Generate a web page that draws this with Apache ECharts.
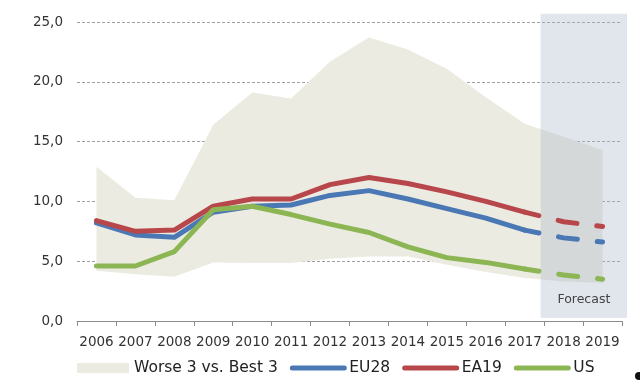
<!DOCTYPE html>
<html>
<head>
<meta charset="utf-8">
<script src="https://cdn.jsdelivr.net/npm/echarts@6/dist/echarts.min.js"></script>
<style>html,body{margin:0;padding:0;background:#fff}#c{width:640px;height:384px}</style>
</head>
<body>
<div id="c"></div>
<script>
const years = ['2006','2007','2008','2009','2010','2011','2012','2013','2014','2015','2016','2017','2018','2019'];
const eu28 = [8.2, 7.2, 7.0, 9.1, 9.6, 9.7, 10.5, 10.9, 10.2, 9.4, 8.6, 7.6, 6.95, 6.6];
const ea19 = [8.4, 7.5, 7.6, 9.6, 10.2, 10.2, 11.4, 12.0, 11.5, 10.8, 10.0, 9.1, 8.3, 7.9];
const us = [4.6, 4.6, 5.8, 9.3, 9.6, 8.9, 8.1, 7.4, 6.2, 5.3, 4.9, 4.35, 3.85, 3.5];
const bandUpper = [12.9, 10.3, 10.1, 16.4, 19.1, 18.6, 21.7, 23.7, 22.7, 21.1, 18.7, 16.5, 15.4, 14.3];
const bandLower = [4.2, 3.9, 3.7, 4.9, 4.85, 4.85, 5.2, 5.4, 5.4, 4.7, 4.1, 3.6, 3.3, 3.2];
const yTicks = [0, 5, 10, 15, 20, 25];
const lastActual = '2017';
const forecastLabel = 'Forecast';
const bandName = 'Worse 3 vs. Best 3';

const FONT = 'DejaVu Sans';
const cut = years.indexOf(lastActual);
const lastIdx = years.length - 1;
const solid = arr => arr.map((v, i) => i <= cut ? v : '-');
const dashed = arr => arr.map((v, i) => i >= cut ? v : '-');

const colors = { EU28: '#4a78b4', EA19: '#b8474b', US: '#8cb553' };
const lineSeries = [];
[['EU28', eu28], ['EA19', ea19], ['US', us]].forEach(([name, data]) => {
  lineSeries.push({
    name, type: 'line', data: solid(data), symbol: 'none', z: 5,
    lineStyle: { color: colors[name], width: 5, cap: 'round', join: 'round' },
    itemStyle: { color: colors[name] }
  });
  lineSeries.push({
    name, type: 'line', data: dashed(data), symbol: 'none', z: 5,
    lineStyle: { color: colors[name], width: 5, cap: 'round', join: 'round', type: [19, 20], dashOffset: 4.5 },
    itemStyle: { color: colors[name] }
  });
});

const lineLegend = name => ({ name, itemStyle: { opacity: 0 }, lineStyle: { width: 5, cap: 'round', color: colors[name] } });

const option = {
  animation: false,
  grid: { left: 77, right: 18, top: 22, bottom: 63 },
  xAxis: {
    type: 'category', data: years, boundaryGap: true,
    axisLine: { lineStyle: { color: '#8c8c8c', width: 1 } },
    axisTick: { show: true, length: 5, lineStyle: { color: '#8c8c8c' } },
    axisLabel: { fontFamily: FONT, fontSize: 13.5, color: '#333', margin: 14, interval: 0 },
    splitLine: { show: false }
  },
  yAxis: {
    type: 'value', min: yTicks[0], max: yTicks[yTicks.length - 1], interval: yTicks[1] - yTicks[0],
    axisLine: { show: false }, axisTick: { show: false },
    axisLabel: { fontFamily: FONT, fontSize: 13.5, color: '#333', margin: 14,
      formatter: v => v.toFixed(1).replace('.', ',') },
    splitLine: { lineStyle: { color: '#a0a0a0', type: [3, 2], width: 1 } }
  },
  legend: {
    left: 77, top: 360, padding: 0, itemGap: 12, itemWidth: 52, itemHeight: 10,
    textStyle: { fontFamily: FONT, fontSize: 15.5, color: '#222' },
    data: [
      { name: bandName, icon: 'rect', itemStyle: { color: '#ecebe2' } },
      lineLegend('EU28'), lineLegend('EA19'), lineLegend('US')
    ]
  },
  series: [
    {
      name: 'base', type: 'line', stack: 'band', data: bandLower, symbol: 'none', silent: true,
      lineStyle: { opacity: 0, width: 0 }, z: 1
    },
    {
      name: bandName, type: 'line', stack: 'band', data: bandUpper.map((v, i) => +(v - bandLower[i]).toFixed(2)),
      symbol: 'none', silent: true, z: 1,
      lineStyle: { opacity: 0, width: 0 },
      itemStyle: { color: '#ecebe2' },
      areaStyle: { color: '#ecebe2', opacity: 1 }
    },
    {
      name: 'forecastBox', type: 'custom', z: 3, silent: true,
      data: [[cut, lastIdx]],
      renderItem: (params, api) => {
        const p0 = api.coord([api.value(0), 25.7]);
        const p1 = api.coord([api.value(1), 0.25]);
        const step = api.size([1, 0])[0];
        const x0 = p0[0] + 0.41 * step;
        const x1 = p1[0] + 0.63 * step;
        return {
          type: 'group',
          children: [
            { type: 'rect', shape: { x: x0, y: p0[1], width: x1 - x0, height: p1[1] - p0[1] },
              style: { fill: 'rgba(170,180,200,0.35)' } },
            { type: 'text', x: (x0 + x1) / 2, y: api.coord([0, 1.8])[1],
              style: { text: forecastLabel, font: '12.5px "' + FONT + '"', fill: '#444', align: 'center', verticalAlign: 'middle' } }
          ]
        };
      }
    },
    ...lineSeries
  ],
  graphic: [
    { type: 'circle', z: 10, silent: true, shape: { cx: 639, cy: 376, r: 4 }, style: { fill: '#111' } }
  ]
};

const chart = echarts.init(document.getElementById('c'), null, { renderer: 'canvas' });
chart.setOption(option);
</script>
</body>
</html>
